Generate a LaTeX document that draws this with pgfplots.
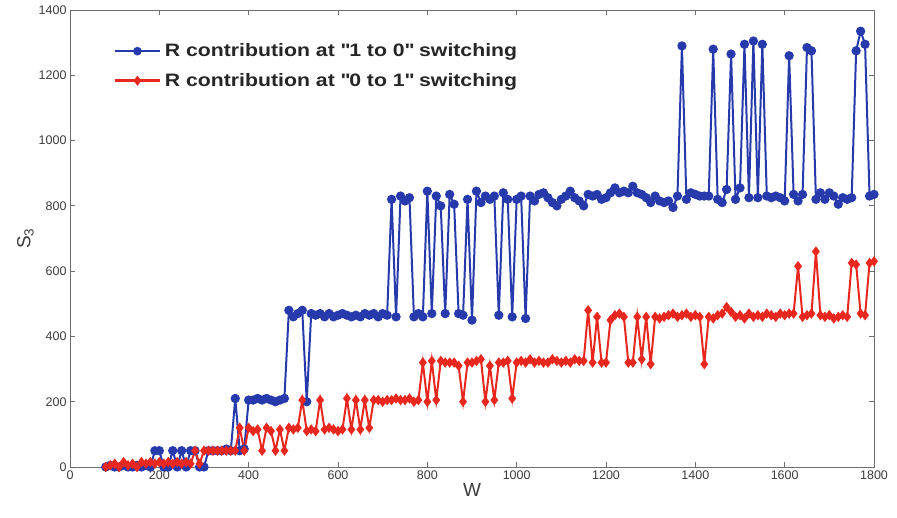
\documentclass[border=0pt]{standalone}
\usepackage{pgfplots}
\pgfplotsset{compat=1.18}
\usepackage{pgfplotstable}
\usepackage{fontspec}
\setmainfont{Liberation Sans}
\newfontfamily\legfont[FakeStretch=1.18]{Liberation Sans}
\definecolor{cblue}{RGB}{38,58,172}
\definecolor{cred}{RGB}{232,40,30}
\definecolor{axgray}{RGB}{110,110,110}
\definecolor{txtgray}{RGB}{60,60,60}
\pgfplotstableread{
W S
80 0
90 5
100 0
110 0
120 5
130 0
140 0
150 5
160 0
170 5
180 0
190 50
200 50
210 0
220 0
230 50
240 0
250 50
260 0
270 50
280 50
290 0
300 0
310 50
320 50
330 50
340 50
350 55
360 50
370 210
380 50
390 55
400 205
410 205
420 210
430 205
440 210
450 205
460 200
470 205
480 210
490 480
500 460
510 470
520 480
530 200
540 470
550 465
560 470
570 460
580 470
590 460
600 465
610 470
620 465
630 460
640 465
650 460
660 470
670 465
680 470
690 460
700 470
710 465
720 820
730 460
740 830
750 815
760 825
770 460
780 470
790 460
800 845
810 470
820 830
830 800
840 470
850 835
860 805
870 470
880 465
890 820
900 450
910 845
920 810
930 830
940 820
950 830
960 465
970 840
980 820
990 460
1000 820
1010 830
1020 455
1030 830
1040 815
1050 835
1060 840
1070 825
1080 810
1090 800
1100 820
1110 830
1120 845
1130 825
1140 815
1150 800
1160 835
1170 830
1180 835
1190 820
1200 825
1210 840
1220 855
1230 840
1240 845
1250 840
1260 860
1270 840
1280 835
1290 825
1300 810
1310 830
1320 815
1330 810
1340 815
1350 795
1360 830
1370 1290
1380 820
1390 840
1400 835
1410 830
1420 830
1430 830
1440 1280
1450 820
1460 810
1470 850
1480 1265
1490 820
1500 855
1510 1295
1520 825
1530 1305
1540 825
1550 1295
1560 830
1570 825
1580 830
1590 825
1600 815
1610 1260
1620 835
1630 815
1640 835
1650 1285
1660 1275
1670 820
1680 840
1690 820
1700 840
1710 830
1720 805
1730 825
1740 820
1750 825
1760 1275
1770 1335
1780 1295
1790 830
1800 835
}\bluedata
\pgfplotstableread{
W S
80 0
90 5
100 10
110 0
120 15
130 5
140 10
150 0
160 15
170 10
180 15
190 10
200 15
210 10
220 15
230 10
240 15
250 10
260 15
270 10
280 50
290 10
300 50
310 50
320 50
330 50
340 50
350 50
360 50
370 50
380 120
390 50
400 120
410 110
420 115
430 50
440 120
450 110
460 50
470 115
480 50
490 120
500 115
510 120
520 205
530 110
540 115
550 110
560 205
570 115
580 120
590 115
600 110
610 115
620 210
630 115
640 205
650 115
660 205
670 120
680 205
690 205
700 200
710 205
720 205
730 210
740 205
750 205
760 210
770 200
780 205
790 320
800 200
810 325
820 205
830 325
840 320
850 320
860 320
870 310
880 200
890 320
900 320
910 325
920 330
930 200
940 310
950 205
960 320
970 320
980 325
990 210
1000 320
1010 325
1020 320
1030 330
1040 320
1050 325
1060 320
1070 320
1080 330
1090 325
1100 320
1110 325
1120 320
1130 330
1140 325
1150 325
1160 480
1170 320
1180 460
1190 320
1200 320
1210 450
1220 465
1230 470
1240 460
1250 320
1260 320
1270 460
1280 330
1290 460
1300 315
1310 460
1320 455
1330 460
1340 465
1350 470
1360 460
1370 465
1380 470
1390 460
1400 465
1410 460
1420 315
1430 460
1440 455
1450 465
1460 470
1470 490
1480 475
1490 460
1500 465
1510 455
1520 470
1530 460
1540 465
1550 460
1560 470
1570 465
1580 460
1590 470
1600 465
1610 470
1620 470
1630 615
1640 460
1650 465
1660 470
1670 660
1680 465
1690 460
1700 465
1710 455
1720 460
1730 465
1740 460
1750 625
1760 620
1770 470
1780 465
1790 625
1800 630
}\reddata
\begin{document}
\begin{tikzpicture}
\begin{axis}[
  scale only axis,
  width=804pt, height=457pt,
  xmin=0, xmax=1800, ymin=0, ymax=1400,
  xtick={0,200,...,1800}, ytick={0,200,...,1400},
  tick align=inside,
  major tick length=5pt,
  axis line style={axgray, line width=0.8pt},
  every tick/.style={axgray, line width=0.8pt},
  tick label style={font=\fontsize{12.5}{14}\selectfont, text=txtgray},
  /pgf/number format/assume math mode=true,
  /pgf/number format/1000 sep={},
  xlabel={W}, ylabel={S\textsubscript{3}},
  label style={font=\fontsize{19}{22}\selectfont, text=txtgray},
  xlabel style={yshift=3pt},
  ylabel style={yshift=-2pt},
  legend cell align=left,
  legend style={at={(0.05,0.935)}, anchor=north west, draw=none, fill=none,
    font=\legfont\bfseries\fontsize{18}{20}\selectfont, row sep=11pt, text=black!85,
    nodes={inner xsep=3.5pt}},
  legend image code/.code={\draw[mark repeat=2,mark phase=2, line width=2.5pt, mark size=3pt] plot coordinates {(0cm,0cm) (0.8cm,0cm) (1.6cm,0cm)};},
]
\addplot[cblue, line width=2pt, mark=*, mark size=3.6pt, mark options={solid}] table[x=W,y=S] {\bluedata};
\addlegendentry{R contribution at \textquotedbl 1 to 0\textquotedbl\ switching}
\addplot[cred, line width=2pt, mark=diamond*, mark size=3.6pt, mark options={solid}] table[x=W,y=S] {\reddata};
\addlegendentry{R contribution at \textquotedbl 0 to 1\textquotedbl\ switching}
\end{axis}
\pgfresetboundingbox
\path ([xshift=-70pt,yshift=-50pt]current axis.south west) rectangle ([xshift=23pt,yshift=10pt]current axis.north east);
\end{tikzpicture}
\end{document}
